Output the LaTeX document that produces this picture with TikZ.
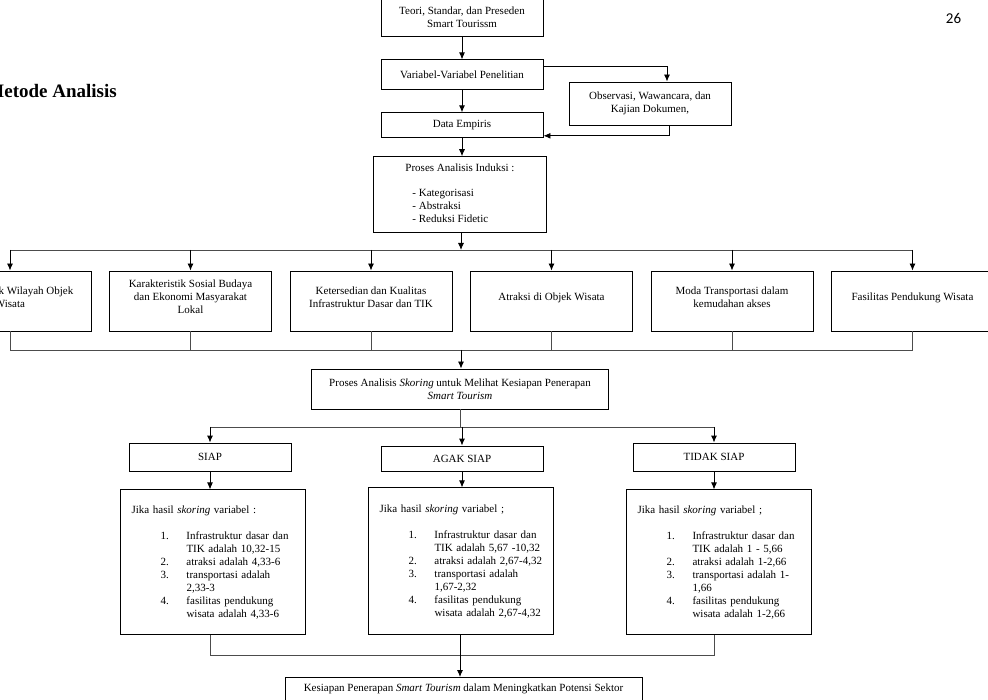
\documentclass[tikz,border=0pt]{standalone}
\usepackage{fontspec}
\setmainfont{Liberation Serif}
\newfontfamily\pagefont{Carlito}
\usetikzlibrary{positioning, arrows.meta}

\tikzstyle{process} = [rectangle, minimum width=162pt, align=center, draw=black, line width=0.9pt, inner sep=3pt]
\tikzstyle{rowbox} = [process, minimum height=60pt, execute at end node={\rule[-8pt]{0pt}{0pt}}]
\tikzstyle{detail} = [process, text width=163pt, align=left, inner xsep=11pt]
\tikzstyle{arrow} = [line width=0.9pt, ->, >={Latex[length=7pt,width=6pt]}]
\tikzstyle{link} = [line width=0.6pt, draw=black!70]

\begin{document}
\begin{tikzpicture}[x=1pt, y=-1pt, font=\fontsize{11}{13}\selectfont]
\useasboundingbox (0,0) rectangle (988,700);

% Nodes
\node (judul) [anchor=base east, inner sep=0pt, font=\fontsize{19}{22}\selectfont\bfseries] at (117,98) {Metode Analisis};
\node (halaman) [font=\pagefont\fontsize{15}{18}\selectfont] at (953.5,18) {26};

\node (teori) [process, minimum height=38pt] at (462,17) {Teori, Standar, dan Preseden\\Smart Tourissm};
\node (variabel) [process, minimum height=30pt, below=23pt of teori] {Variabel-Variabel Penelitian};
\node (empiris) [process, minimum height=25pt, below=22pt of variabel] {Data Empiris};
\node (observasi) [process, minimum height=43pt] at (650,103.5) {Observasi, Wawancara, dan\\Kajian Dokumen,};
\node (induksi) [process, minimum width=173pt, minimum height=76pt, below=18pt of empiris, xshift=-2pt] {\begin{tabular}{@{}l@{}}Proses Analisis Induksi :\\[12pt]\hspace*{7pt}- Kategorisasi\\\hspace*{7pt}- Abstraksi\\\hspace*{7pt}- Reduksi Fidetic\end{tabular}};

\node (wilayah) [rowbox] at (10,301) {Karakteristik Wilayah Objek\\Wisata};
\node (sosial) [rowbox, right=17.6pt of wilayah] {Karakteristik Sosial Budaya\\dan Ekonomi Masyarakat\\Lokal};
\node (infrastruktur) [rowbox, right=17.6pt of sosial] {Ketersedian dan Kualitas\\Infrastruktur Dasar dan TIK};
\node (atraksi) [rowbox, right=17.6pt of infrastruktur] {Atraksi di Objek Wisata};
\node (moda) [rowbox, right=17.6pt of atraksi] {Moda Transportasi dalam\\kemudahan akses};
\node (fasilitas) [rowbox, right=17.6pt of moda] {Fasilitas Pendukung Wisata};

\node (skoring) [process, minimum width=297pt, minimum height=40pt] at (460,389) {Proses Analisis \textit{Skoring} untuk Melihat Kesiapan Penerapan\\\textit{Smart Tourism}};

\node (siap) [process, minimum height=28pt] at (210,457) {SIAP};
\node (agak) [process, minimum height=25pt] at (462,458.5) {AGAK SIAP};
\node (tidak) [process, minimum height=28pt] at (714,457) {TIDAK SIAP};

\node (hasilsiap) [detail, minimum height=145pt, below=18pt of siap, xshift=3pt] {\begin{tabular}{@{\hspace{29pt}}p{26pt}@{}l@{}}
\multicolumn{2}{@{}l@{}}{Jika hasil \textit{skoring} variabel :}\\[13pt]
1. & Infrastruktur dasar dan\\
   & TIK adalah 10,32-15\\
2. & atraksi adalah 4,33-6\\
3. & transportasi adalah\\
   & 2,33-3\\
4. & fasilitas pendukung\\
   & wisata adalah 4,33-6
\end{tabular}};
\node (hasilagak) [detail, minimum height=147pt, below=16pt of agak, xshift=-1pt] {\begin{tabular}{@{\hspace{29pt}}p{26pt}@{}l@{}}
\multicolumn{2}{@{}l@{}}{Jika hasil \textit{skoring} variabel ;}\\[13pt]
1. & Infrastruktur dasar dan\\
   & TIK adalah 5,67 -10,32\\
2. & atraksi adalah 2,67-4,32\\
3. & transportasi adalah\\
   & 1,67-2,32\\
4. & fasilitas pendukung\\
   & wisata adalah 2,67-4,32
\end{tabular}};
\node (hasiltidak) [detail, minimum height=145pt, below=18pt of tidak, xshift=5pt] {\begin{tabular}{@{\hspace{29pt}}p{26pt}@{}l@{}}
\multicolumn{2}{@{}l@{}}{Jika hasil \textit{skoring} variabel ;}\\[13pt]
1. & Infrastruktur dasar dan\\
   & TIK adalah 1 - 5,66\\
2. & atraksi adalah 1-2,66\\
3. & transportasi adalah 1-\\
   & 1,66\\
4. & fasilitas pendukung\\
   & wisata adalah 1-2,66
\end{tabular}};

\node (kesiapan) [process, minimum width=357pt, anchor=north, inner ysep=6pt, text depth=25pt] at (463.5,677) {Kesiapan Penerapan \textit{Smart Tourism} dalam Meningkatkan Potensi Sektor};

\coordinate (bagi) at (461,250);
\coordinate (gabung) at (461,350);
\coordinate (pilah) at (460,427);
\coordinate (satu) at (460,655);

% Arrows
\draw [arrow] (teori) -- (variabel);
\draw [arrow] (variabel) -- (empiris);
\draw [arrow] (empiris) -- (empiris |- induksi.north);
\draw [arrow] ([yshift=8pt]variabel.east) -| ([xshift=17pt]observasi.north);
\draw [arrow] ([xshift=19pt]observasi.south) |- ([yshift=-10.5pt]empiris.east);

\draw [arrow] (induksi.south -| bagi) -- (bagi);
\draw [link] (wilayah.north |- bagi) -- (fasilitas.north |- bagi);
\foreach \n in {wilayah,sosial,infrastruktur,atraksi,moda,fasilitas}
  \draw [arrow] (\n.north |- bagi) -- (\n.north);

\foreach \n in {wilayah,sosial,infrastruktur,atraksi,moda,fasilitas}
  \draw [link] (\n.south) -- (\n.south |- gabung);
\draw [link] (wilayah.south |- gabung) -- (fasilitas.south |- gabung);
\draw [arrow] (gabung) -- (gabung |- skoring.north);

\draw [link] (skoring.south -| pilah) -- (pilah);
\draw [link] (siap.north |- pilah) -- (tidak.north |- pilah);
\foreach \n in {siap,agak,tidak}
  \draw [arrow] (\n.north |- pilah) -- (\n.north);

\draw [arrow] (siap.south) -- (siap.south |- hasilsiap.north);
\draw [arrow] (agak.south) -- (agak.south |- hasilagak.north);
\draw [arrow] (tidak.south) -- (tidak.south |- hasiltidak.north);

\draw [link] (hasilsiap.south -| siap) -- (siap |- satu) -- (tidak |- satu) -- (hasiltidak.south -| tidak);
\draw [arrow] (hasilagak.south -| satu) -- (satu |- kesiapan.north);

\end{tikzpicture}
\end{document}
